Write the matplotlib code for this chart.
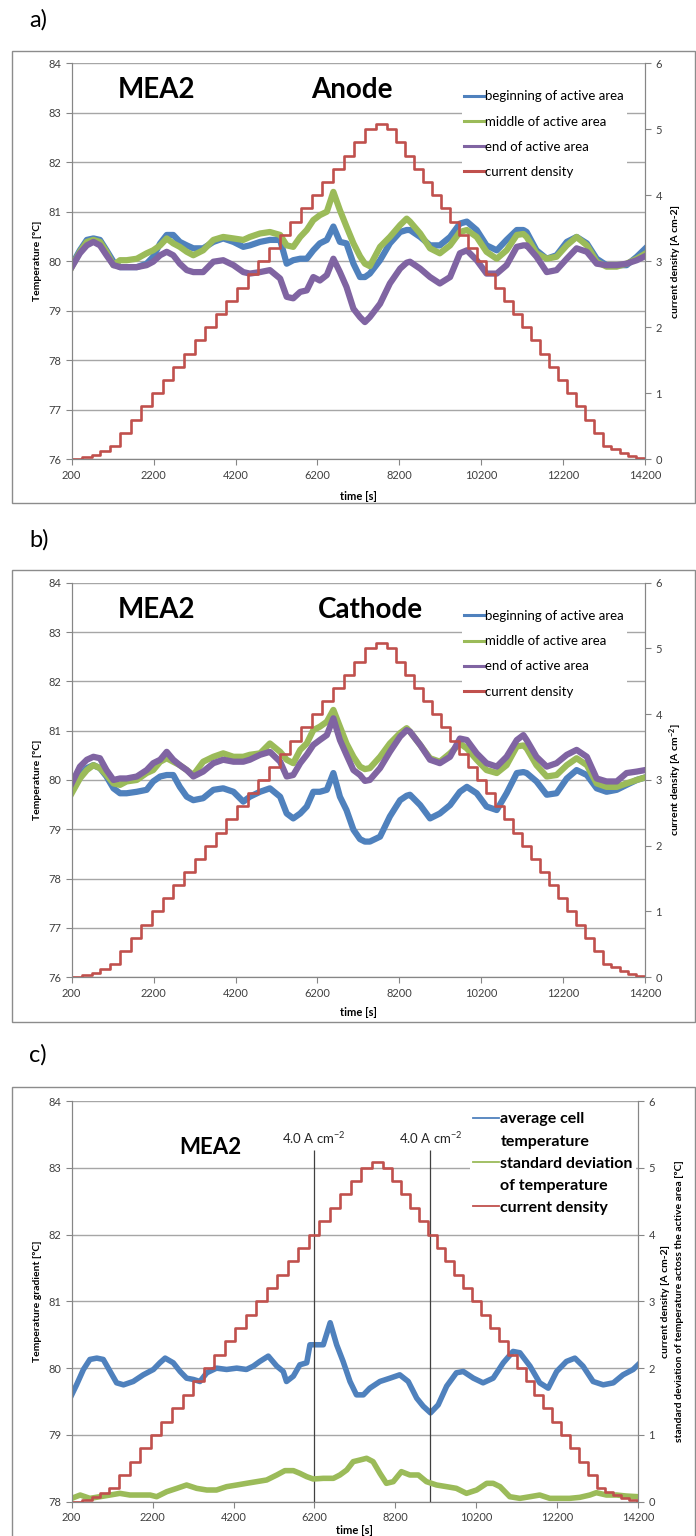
import matplotlib.pyplot as plt
from matplotlib.patches import Rectangle
from matplotlib.lines import Line2D

plt.rcParams['font.family'] = ['Lato', 'DejaVu Sans']
plt.rcParams['mathtext.default'] = 'regular'

BLUE = '#4F81BD'
GREEN = '#9BBB59'
PURPLE = '#8064A2'
RED = '#C0504D'
GRID = '#a6a6a6'
SPINE = '#868686'

# current density steps (start time [s], level [A cm-2]) - same programme in all panels
cd_t = [200, 450, 690, 900, 1130, 1380, 1640, 1900, 2160, 2420, 2680, 2940, 3200,
        3460, 3720, 3980, 4240, 4500, 4760, 5020, 5280, 5540, 5800, 6060, 6320,
        6580, 6840, 7100, 7360, 7630, 7900, 8120, 8340, 8560, 8780, 9000, 9220,
        9440, 9660, 9880, 10100, 10320, 10540, 10760, 10980, 11200, 11420, 11640,
        11860, 12080, 12300, 12520, 12740, 12960, 13180, 13380, 13580, 13780,
        13980, 14180, 14200]
cd_v = [0, 0.03, 0.07, 0.13, 0.2, 0.4, 0.6, 0.8, 1.0, 1.2, 1.4, 1.6, 1.8,
        2.0, 2.2, 2.4, 2.6, 2.8, 3.0, 3.2, 3.4, 3.6, 3.8, 4.0, 4.2,
        4.4, 4.6, 4.8, 5.0, 5.08, 5.0, 4.8, 4.6, 4.4, 4.2, 4.0, 3.8,
        3.6, 3.4, 3.2, 3.0, 2.8, 2.6, 2.4, 2.2, 2.0, 1.8, 1.6,
        1.4, 1.2, 1.0, 0.8, 0.6, 0.4, 0.2, 0.15, 0.1, 0.05,
        0.02, 0, 0]

# panels a) and b): time grid of the temperature readings
t_ab = [200, 400, 570, 730, 890, 1050, 1220, 1380, 1540, 1790, 2030, 2190, 2360,
        2520, 2680, 2840, 3010, 3170, 3410, 3660, 3900, 4150, 4390, 4550, 4800,
        5040, 5290, 5450, 5610, 5780, 5940, 6100, 6260, 6430, 6590, 6750, 6910,
        7080, 7240, 7360, 7480, 7730, 7970, 8220, 8380, 8460, 8710, 8950, 9190,
        9440, 9680, 9850, 10090, 10330, 10580, 10820, 11070, 11230, 11310, 11550,
        11800, 12040, 12290, 12530, 12780, 13020, 13260, 13510, 13750, 14000, 14200]

# a) anode
a_begin = [79.92, 80.22, 80.43, 80.46, 80.43, 80.22, 79.99, 79.88, 79.88, 79.88, 79.95, 80.09, 80.36,
           80.53, 80.53, 80.39, 80.32, 80.26, 80.26, 80.39, 80.46, 80.39, 80.29, 80.32, 80.39,
           80.43, 80.43, 79.95, 80.02, 80.05, 80.05, 80.22, 80.36, 80.43, 80.70, 80.39, 80.36,
           79.95, 79.68, 79.68, 79.75, 80.02, 80.36, 80.59, 80.63, 80.63, 80.49, 80.32, 80.32,
           80.49, 80.76, 80.80, 80.63, 80.32, 80.22, 80.43, 80.63, 80.63, 80.59, 80.22,
           80.05, 80.12, 80.39, 80.49, 80.36, 80.05, 79.92, 79.92, 79.92, 80.09, 80.25]
a_middle = [79.88, 80.19, 80.39, 80.43, 80.39, 80.19, 79.92, 80.02, 80.02, 80.05, 80.16, 80.22, 80.32,
            80.46, 80.36, 80.29, 80.19, 80.12, 80.22, 80.43, 80.49, 80.46, 80.43, 80.49, 80.56,
            80.59, 80.53, 80.32, 80.29, 80.49, 80.63, 80.83, 80.93, 81.00, 81.40, 81.03, 80.70,
            80.36, 80.10, 79.95, 79.90, 80.29, 80.49, 80.73, 80.86, 80.80, 80.56, 80.26, 80.16,
            80.32, 80.59, 80.63, 80.49, 80.19, 80.05, 80.22, 80.53, 80.55, 80.49, 80.16,
            80.05, 80.09, 80.32, 80.49, 80.32, 79.99, 79.89, 79.89, 79.95, 80.05, 80.15]
a_end = [79.88, 80.16, 80.32, 80.39, 80.32, 80.12, 79.92, 79.88, 79.88, 79.88, 79.92, 79.99, 80.12,
         80.19, 80.12, 79.95, 79.82, 79.78, 79.78, 79.99, 80.02, 79.92, 79.78, 79.75, 79.78,
         79.82, 79.65, 79.28, 79.25, 79.38, 79.41, 79.68, 79.61, 79.72, 80.05, 79.78, 79.48,
         79.04, 78.87, 78.77, 78.87, 79.14, 79.55, 79.85, 79.97, 79.99, 79.85, 79.68, 79.55,
         79.68, 80.16, 80.22, 80.02, 79.75, 79.75, 79.92, 80.29, 80.32, 80.32, 80.09,
         79.78, 79.82, 80.05, 80.26, 80.19, 79.95, 79.92, 79.92, 79.95, 80.02, 80.10]

# b) cathode
b_begin = [79.80, 80.10, 80.24, 80.30, 80.24, 80.07, 79.83, 79.73, 79.73, 79.76, 79.80, 79.97, 80.07,
           80.10, 80.10, 79.86, 79.66, 79.59, 79.63, 79.80, 79.83, 79.76, 79.56, 79.66, 79.76,
           79.83, 79.66, 79.32, 79.22, 79.32, 79.46, 79.76, 79.76, 79.80, 80.14, 79.66, 79.39,
           78.99, 78.80, 78.75, 78.75, 78.85, 79.26, 79.59, 79.68, 79.70, 79.49, 79.22, 79.32,
           79.49, 79.76, 79.86, 79.73, 79.46, 79.39, 79.73, 80.14, 80.16, 80.14, 79.97,
           79.70, 79.73, 80.03, 80.20, 80.10, 79.83, 79.76, 79.80, 79.90, 80.00, 80.05]
b_middle = [79.73, 80.03, 80.20, 80.30, 80.24, 80.10, 79.93, 79.90, 79.97, 80.00, 80.14, 80.20, 80.37,
            80.44, 80.37, 80.30, 80.20, 80.10, 80.37, 80.47, 80.54, 80.47, 80.47, 80.51, 80.54,
            80.74, 80.57, 80.41, 80.34, 80.61, 80.74, 81.01, 81.08, 81.18, 81.42, 81.08, 80.74,
            80.47, 80.27, 80.22, 80.24, 80.47, 80.74, 80.95, 81.05, 80.98, 80.71, 80.44, 80.37,
            80.54, 80.74, 80.64, 80.41, 80.20, 80.14, 80.30, 80.68, 80.70, 80.64, 80.30,
            80.07, 80.10, 80.30, 80.44, 80.30, 79.93, 79.86, 79.86, 79.93, 80.00, 80.05]
b_end = [79.93, 80.27, 80.41, 80.47, 80.44, 80.20, 80.00, 80.03, 80.03, 80.07, 80.20, 80.34, 80.41,
         80.57, 80.41, 80.30, 80.20, 80.07, 80.17, 80.34, 80.41, 80.37, 80.37, 80.41, 80.51,
         80.57, 80.37, 80.07, 80.10, 80.34, 80.51, 80.71, 80.81, 80.91, 81.25, 80.81, 80.51,
         80.20, 80.10, 79.98, 80.00, 80.24, 80.57, 80.88, 81.01, 80.98, 80.71, 80.41, 80.34,
         80.47, 80.84, 80.81, 80.54, 80.34, 80.27, 80.47, 80.81, 80.91, 80.81, 80.47,
         80.27, 80.34, 80.51, 80.61, 80.47, 80.03, 79.97, 79.97, 80.14, 80.17, 80.20]

# c) average cell temperature
t_avg = [200, 320, 490, 650, 820, 980, 1150, 1310, 1480, 1720, 1970, 2220, 2380, 2510,
         2710, 2880, 3040, 3210, 3370, 3540, 3780, 4030, 4280, 4520, 4690, 4850, 5060,
         5270, 5430, 5510, 5680, 5840, 6010, 6090, 6250, 6420, 6590, 6750, 6910, 7080,
         7240, 7410, 7570, 7820, 8070, 8310, 8520, 8730, 8890, 9070, 9260, 9470, 9710,
         9880, 10130, 10370, 10620, 10870, 11110, 11280, 11530, 11770, 11980, 12190,
         12430, 12640, 12840, 13090, 13340, 13590, 13830, 14080, 14200]
c_avg = [79.60, 79.75, 79.98, 80.13, 80.15, 80.13, 79.95, 79.78, 79.75, 79.80, 79.90, 79.98, 80.08, 80.15,
         80.08, 79.95, 79.85, 79.83, 79.80, 79.93, 80.00, 79.98, 80.00, 79.98, 80.03, 80.10, 80.18,
         80.03, 79.95, 79.80, 79.88, 80.05, 80.08, 80.35, 80.35, 80.35, 80.68, 80.35, 80.10, 79.80,
         79.60, 79.60, 79.70, 79.80, 79.85, 79.90, 79.80, 79.55, 79.43, 79.33, 79.45, 79.73, 79.93,
         79.95, 79.85, 79.78, 79.85, 80.08, 80.25, 80.23, 80.03, 79.78, 79.70, 79.95,
         80.10, 80.15, 80.03, 79.80, 79.75, 79.78, 79.90, 79.98, 80.05]

# c) standard deviation of temperature across the active area
t_std = [200, 410, 650, 900, 1150, 1390, 1640, 1890, 2140, 2300, 2550, 2800, 3040, 3290,
         3540, 3780, 4030, 4280, 4520, 4770, 5020, 5270, 5470, 5680, 5840, 6010, 6170,
         6420, 6670, 6830, 7000, 7160, 7330, 7490, 7650, 7820, 7980, 8150, 8350, 8560,
         8770, 8970, 9220, 9470, 9710, 9960, 10210, 10460, 10620, 10790, 11030, 11280,
         11530, 11770, 12020, 12270, 12510, 12760, 13010, 13170, 13420, 13670, 13910, 14200]
c_std = [0.05, 0.10, 0.05, 0.075, 0.10, 0.125, 0.10, 0.10, 0.10, 0.075, 0.15, 0.20, 0.25, 0.20,
         0.175, 0.175, 0.225, 0.25, 0.275, 0.30, 0.325, 0.40, 0.465, 0.465, 0.425, 0.375, 0.34,
         0.35, 0.35, 0.40, 0.475, 0.60, 0.625, 0.65, 0.60, 0.425, 0.275, 0.30, 0.45, 0.40,
         0.40, 0.30, 0.25, 0.225, 0.20, 0.125, 0.175, 0.275, 0.275, 0.225, 0.075, 0.05,
         0.075, 0.10, 0.05, 0.05, 0.05, 0.065, 0.10, 0.135, 0.10, 0.10, 0.085, 0.075]

# times where current density reaches 4.0 A cm-2 (marked in c)
mark_t = [6200, 9070]

x_ticks = list(range(200, 14201, 2000))

W, H = 696, 1536
fig = plt.figure(figsize=(W / 100, H / 100), dpi=100)


def fx(px):
    return px / W


def fy(py):
    return 1 - py / H


def style(ax, ax2, ylo, yhi):
    ax.set_xlim(200, 14200)
    ax.set_xticks(x_ticks)
    ax.set_ylim(ylo, yhi)
    ax.set_yticks(range(ylo, yhi + 1))
    ax2.set_ylim(0, 6)
    ax2.set_yticks(range(0, 7))
    ax.grid(axis='y', color=GRID, lw=1)
    ax.set_axisbelow(True)
    for a in (ax, ax2):
        a.spines['top'].set_visible(False)
        for s in ('left', 'right', 'bottom'):
            a.spines[s].set_color(SPINE)
        a.tick_params(length=4, color=SPINE, labelcolor='#404040', labelsize=8)


def panel_box(top, bottom, label, label_y):
    fig.patches.append(Rectangle((fx(12), fy(bottom)), fx(683), (bottom - top) / H,
                                 transform=fig.transFigure, fill=False,
                                 edgecolor='#8c8c8c', lw=1))
    fig.text(fx(29), fy(label_y), label, fontsize=17, va='center', ha='left')


# ---------- a) and b) ----------
panels = [
    (63.2, 459.2, 645, 'a)', 20, 51, 503, 'Anode', 352,
     a_begin, a_middle, a_end, 'current density [A cm-2]', 496),
    (582.7, 977.2, 645, 'b)', 540, 570, 1022, 'Cathode', 370,
     b_begin, b_middle, b_end, 'current density [A cm$^{-2}$]', 1012),
]
for (top, bot, right, lab, lab_y, box_top, box_bot, side, side_x,
     s1, s2, s3, rlabel, xl_y) in panels:
    panel_box(box_top, box_bot, lab, lab_y)
    ax = fig.add_axes([fx(71.7), fy(bot), fx(right) - fx(71.7), (bot - top) / H])
    ax2 = ax.twinx()
    l1, = ax.plot(t_ab, s1, color=BLUE, lw=4.5, label='beginning of active area')
    l2, = ax.plot(t_ab, s2, color=GREEN, lw=4.5, label='middle of active area')
    l3, = ax.plot(t_ab, s3, color=PURPLE, lw=4.5, label='end of active area')
    l4, = ax2.step(cd_t, cd_v, where='post', color=RED, lw=1.9, label='current density')
    style(ax, ax2, 76, 84)
    leg = ax2.legend(handles=[l1, l2, l3, l4], loc='upper left',
                     bbox_to_anchor=(fx(455), fy(top + 18)), bbox_transform=fig.transFigure,
                     frameon=True, facecolor='white', edgecolor='none', framealpha=1,
                     fontsize=9.5, handlelength=1.5, handletextpad=0.1,
                     labelspacing=1.0, borderpad=0.2)
    for h in leg.legend_handles:
        h.set_linewidth(2.2)
    fig.text(fx(157), fy(top + 27), 'MEA2', fontsize=20, fontweight='bold',
             ha='center', va='center')
    fig.text(fx(side_x), fy(top + 27), side, fontsize=20, fontweight='bold',
             ha='center', va='center')
    fig.text(fx(37), fy((top + bot) / 2), 'Temperature [ºC]', rotation=90,
             fontsize=7.5, fontweight='bold', ha='center', va='center')
    fig.text(fx(676), fy((top + bot) / 2), rlabel, rotation=90,
             fontsize=7.5, fontweight='bold', ha='center', va='center')
    fig.text(fx((71.7 + right) / 2), fy(xl_y), 'time [s]', fontsize=8,
             fontweight='bold', ha='center', va='center')

# ---------- c) ----------
top, bot, right = 1101, 1501.7, 638
panel_box(1087, 1545, 'c)', 1055)
ax = fig.add_axes([fx(71.7), fy(bot), fx(right) - fx(71.7), (bot - top) / H])
ax2 = ax.twinx()
ax.plot(t_avg, c_avg, color=BLUE, lw=4)
ax2.plot(t_std, c_std, color=GREEN, lw=4)
ax2.step(cd_t, cd_v, where='post', color=RED, lw=1.9)
style(ax, ax2, 78, 84)
ax.vlines(mark_t, 78, 83.27, color='#404040', lw=0.9)
for t in mark_t:
    ax.text(t, 83.32, '4.0 A cm$^{-2}$', fontsize=9.5, color='#262626',
            ha='center', va='bottom')
# legend: second line of a two-line label is an entry without a visible handle
leg_rows = [('average cell', BLUE), ('temperature', 'none'),
            ('standard deviation', GREEN), ('of temperature', 'none'),
            ('current density', RED)]
handles = [Line2D([], [], color=c, lw=1.3) for _, c in leg_rows]
leg = ax2.legend(handles=handles, labels=[l for l, _ in leg_rows], loc='upper left',
                 bbox_to_anchor=(fx(462), fy(1101)), bbox_transform=fig.transFigure,
                 frameon=True, facecolor='white', edgecolor='none', framealpha=1,
                 prop={'size': 11.5, 'weight': 'bold'}, handlelength=1.6,
                 handletextpad=0.1, labelspacing=0.5, borderpad=0.2)
fig.text(fx(210), fy(1147), 'MEA2', fontsize=16, fontweight='bold',
         ha='center', va='center')
fig.text(fx(37), fy((top + bot) / 2), 'Temperature gradient [ºC]', rotation=90,
         fontsize=7.5, fontweight='bold', ha='center', va='center')
fig.text(fx(666), fy((top + bot) / 2), 'current density [A cm-2]', rotation=90,
         fontsize=7.5, fontweight='bold', ha='center', va='center')
fig.text(fx(680), fy((top + bot) / 2),
         'standard deviation of temperature actoss the active area [ºC]', rotation=90,
         fontsize=7.5, fontweight='bold', ha='center', va='center')
fig.text(fx((71.7 + right) / 2), fy(1530), 'time [s]', fontsize=8,
         fontweight='bold', ha='center', va='center')

fig.savefig('out.png', dpi=100)
